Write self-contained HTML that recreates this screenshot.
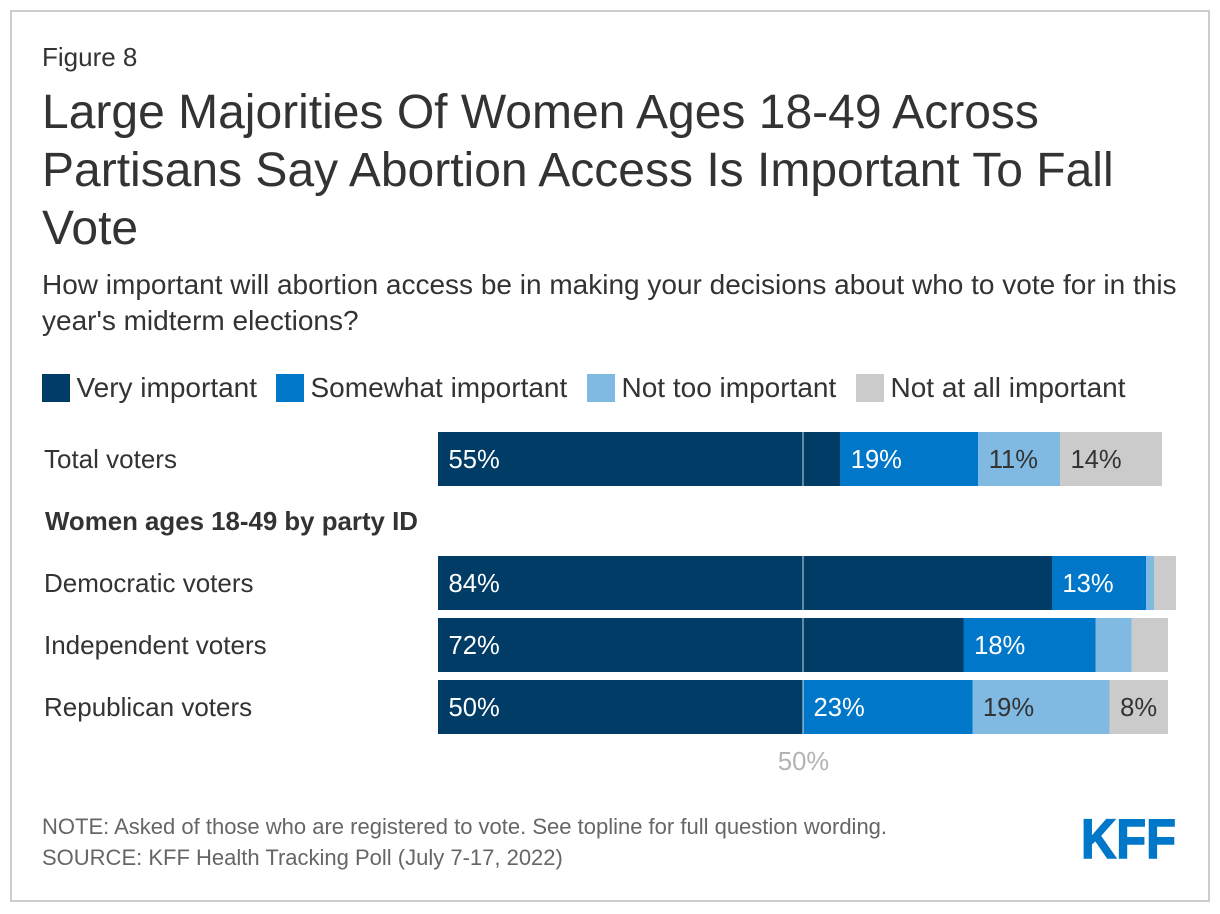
<!DOCTYPE html>
<html lang="en">
<head>
<meta charset="utf-8">
<title>Figure 8</title>
<style>
html,body{margin:0;padding:0;background:#fff;width:1220px;height:914px;overflow:hidden}
svg{display:block}
text{font-family:"Liberation Sans",Arial,sans-serif}
</style>
</head>
<body>
<svg id="chart" width="1220" height="914" viewBox="0 0 1220 914" xmlns="http://www.w3.org/2000/svg">
<rect x="11" y="11" width="1198" height="890" fill="#fff" stroke="#ccc" stroke-width="2"/>
<text x="42" y="66" font-size="26" fill="#333">Figure 8</text>
<text x="42" y="128" font-size="48" fill="#333">Large Majorities Of Women Ages 18-49 Across</text>
<text x="42" y="186" font-size="48" fill="#333">Partisans Say Abortion Access Is Important To Fall</text>
<text x="42" y="244" font-size="48" fill="#333">Vote</text>
<text x="42" y="294" font-size="28" fill="#333">How important will abortion access be in making your decisions about who to vote for in this</text>
<text x="42" y="330" font-size="28" fill="#333">year's midterm elections?</text>
<g id="legend"></g>
<text x="45" y="530" font-size="25.85" font-weight="bold" fill="#333">Women ages 18-49 by party ID</text>
<g id="rows"></g>
<g id="refline"></g>
<text x="42" y="834" font-size="22" fill="#666">NOTE: Asked of those who are registered to vote. See topline for full question wording.</text>
<text x="42" y="865" font-size="22" fill="#666">SOURCE: KFF Health Tracking Poll (July 7-17, 2022)</text>
<text x="1081" y="858" font-size="56" font-weight="bold" fill="#0077c8" stroke="#0077c8" stroke-width="1.5" textLength="95" lengthAdjust="spacingAndGlyphs">KFF</text>
</svg>
<script>
const categories = ["Total voters", "Democratic voters", "Independent voters", "Republican voters"];
const seriesNames = ["Very important", "Somewhat important", "Not too important", "Not at all important"];
const veryImportant = [55.1, 84.1, 72, 50];
const somewhatImportant = [18.9, 12.9, 18.1, 23.2];
const notTooImportant = [11.2, 1.1, 4.9, 18.8];
const notAtAllImportant = [14, 3, 5, 8];
const referenceValue = 50;

const seriesValues = [veryImportant, somewhatImportant, notTooImportant, notAtAllImportant];
const seriesFills = ["#003c65", "#0077c8", "#80bae3", "#cbcbcb"];
const seriesText = ["#fff", "#fff", "#333", "#333"];
const NS = "http://www.w3.org/2000/svg";
const rowTops = [432, 556, 618, 680];
const barH = 54;
const x = v => 438 + v * 7.3;

function make(tag, attrs, parent, text) {
  const el = document.createElementNS(NS, tag);
  for (const k in attrs) el.setAttribute(k, attrs[k]);
  if (text !== undefined) el.textContent = text;
  parent.appendChild(el);
  return el;
}

const legend = document.getElementById("legend");
const legendSwatchX = [42, 276, 587, 856];
seriesNames.forEach((name, i) => {
  const sw = make("rect", {x: legendSwatchX[i], y: 374, width: 28, height: 28, fill: seriesFills[i]}, legend);
  
  
  const t = make("text", {x: legendSwatchX[i] + 34.5, y: 397, "font-size": 28, fill: "#333"}, legend, name);
  
  
});

const rows = document.getElementById("rows");
categories.forEach((cat, r) => {
  const top = rowTops[r];
  const lab = make("text", {x: 44, y: top + 36, "font-size": 26, fill: "#333"}, rows, cat);
  
  
  let cum = 0;
  seriesValues.forEach((vals, s) => {
    const v = vals[r];
    const bar = make("rect", {x: x(cum), y: top, width: x(cum + v) - x(cum), height: barH, fill: seriesFills[s], "shape-rendering": "crispEdges"}, rows);
    
    
    if (v >= 8) {
      const t = make("text", {x: x(cum) + 10.5, y: top + 36, "font-size": 25.6, fill: seriesText[s]}, rows, Math.round(v) + "%");
      
      
    }
    cum += v;
  });
});

const refline = document.getElementById("refline");
rowTops.forEach((top) => {
  const l = make("rect", {x: x(referenceValue) - 1, y: top, width: 2, height: barH, fill: "#fff", "fill-opacity": 0.4}, refline);
  
  
});
const refLabel = make("text", {x: x(referenceValue) + 0.5, y: 770, "font-size": 25.6, fill: "#b3b3b3", "text-anchor": "middle"}, refline, referenceValue + "%");


</script>
</body>
</html>
